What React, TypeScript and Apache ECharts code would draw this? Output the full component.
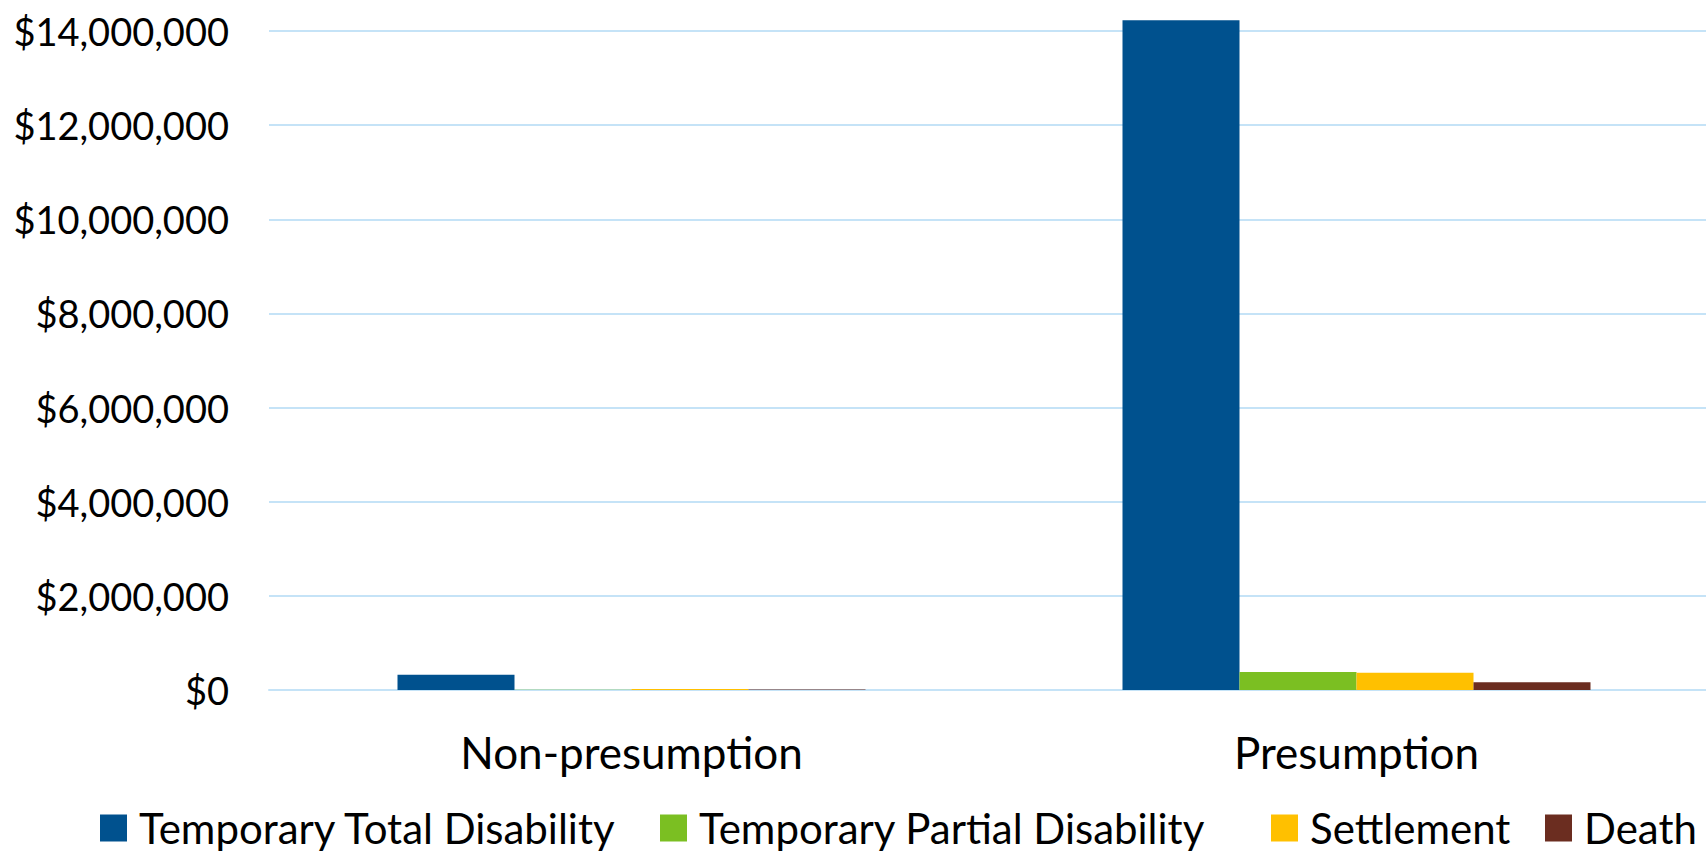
import React, { useEffect, useRef } from "react";
import * as echarts from "echarts";

const categories = ["Non-presumption", "Presumption"];
const seriesNames = [
  "Temporary Total Disability",
  "Temporary Partial Disability",
  "Settlement",
  "Death",
];
const ttd = [325000, 14230000];
const tpd = [3000, 385000];
const settlement = [20000, 368000];
const death = [12000, 163000];
const seriesColors = ["#00518e", "#7bbf22", "#ffc000", "#6b2d20"];
const yTicks = { min: 0, max: 14000000, interval: 2000000 };
const legendLeft = [100, 660, 1271, 1545];

const FONT = "Lato, 'Open Sans', sans-serif";

export default function App() {
  const ref = useRef<HTMLDivElement>(null);
  useEffect(() => {
    document.body.style.margin = "0";
    document.body.style.overflow = "hidden";
    const chart = echarts.init(ref.current!, null, { renderer: "svg" });
    const values = [ttd, tpd, settlement, death];
    chart.setOption({
      animation: false,
      backgroundColor: "#ffffff",
      textStyle: { fontFamily: FONT },
      grid: { left: 269, right: 1, top: 31, bottom: 165, containLabel: false },
      legend: seriesNames.map((name, i) => ({
        left: legendLeft[i],
        top: 807,
        itemWidth: 27,
        itemHeight: 27,
        icon: "rect",
        padding: 0,
        textStyle: {
          fontSize: 42,
          color: "#000",
          fontFamily: FONT,
          padding: [0, 0, 0, 7],
        },
        data: [name],
      })),
      xAxis: {
        type: "category",
        data: categories,
        axisLine: { show: true, lineStyle: { color: "#c5e3f7", width: 2 } },
        axisTick: { show: false },
        axisLabel: { fontSize: 44, color: "#000", margin: 40, fontFamily: FONT },
      },
      yAxis: {
        type: "value",
        min: yTicks.min,
        max: yTicks.max,
        interval: yTicks.interval,
        axisLine: { show: false },
        axisTick: { show: false },
        splitLine: { lineStyle: { color: "#c5e3f7", width: 2 } },
        axisLabel: {
          fontSize: 38,
          color: "#000",
          margin: 40,
          fontFamily: FONT,
          formatter: (v: number) => "$" + v.toLocaleString("en-US"),
        },
      },
      series: seriesNames.map((name, i) => ({
        name,
        type: "bar",
        data: values[i],
        barWidth: 117,
        barGap: "0%",
        clip: false,
        itemStyle: { color: seriesColors[i] },
      })),
    });
    return () => chart.dispose();
  }, []);
  return (
    <div
      ref={ref}
      style={{ width: 1720, height: 855, position: "absolute", left: 0, top: 0 }}
    />
  );
}
